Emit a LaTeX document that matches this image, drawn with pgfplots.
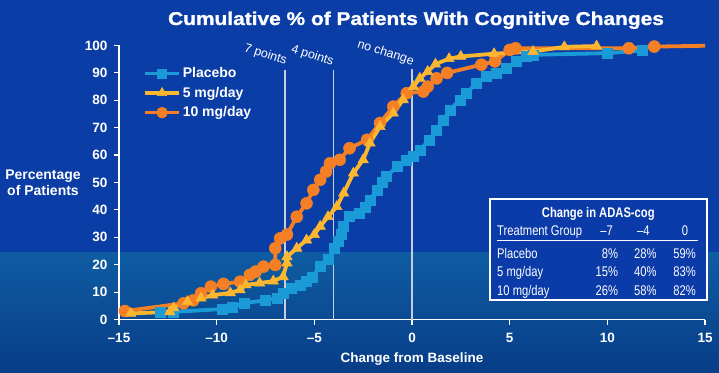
\documentclass[border=0pt]{standalone}
\usepackage{fontspec}
\setmainfont{Liberation Sans}
\newfontfamily\narrowfont[FakeStretch=0.8]{Liberation Sans}
\newfontfamily\titlefont[FakeStretch=1.13,FakeBold=1.2]{Liberation Sans Bold}
\usepackage{pgfplots}
\pgfplotsset{compat=1.18}
\definecolor{bgtop}{HTML}{0B3DA6}
\definecolor{bandtop}{HTML}{0E5CA2}
\definecolor{bandbot}{HTML}{083D88}
\definecolor{tablebg}{HTML}{0A3BA9}
\definecolor{placebo}{HTML}{1A9BD7}
\definecolor{five}{HTML}{FDB62F}
\definecolor{ten}{HTML}{F47F24}
\definecolor{refline}{HTML}{C9CCDA}
\begin{document}
\begin{tikzpicture}[x=1pt,y=1pt]
\fill[bgtop] (0,0) rectangle (719,372);
\shade[top color=bandtop,bottom color=bandbot] (0,0) rectangle (719,119);
\useasboundingbox (0,0) rectangle (719,372);
\begin{axis}[
  at={(119pt,52.5pt)}, anchor=south west,
  scale only axis, width=586pt, height=274pt,
  xmin=-15, xmax=15, ymin=0, ymax=100,
  axis lines*=left,
  axis line style={-, white, line width=1.2pt},
  tick align=outside, major tick length=5pt,
  tick style={white, line width=1.2pt},
  xtick={-15,-10,-5,0,5,10,15}, xticklabels={–15,–10,–5,0,5,10,15},
  ytick={0,10,...,100}, yticklabels={0,10,20,30,40,50,60,70,80,90,100},
  ticklabel style={text=white, font=\bfseries\fontsize{13.5}{14}\selectfont},
  xticklabel style={yshift=-5pt},
  yticklabel style={xshift=-3pt},
  clip=false,
  legend cell align=left,
  legend style={at={(0.036,0.935)}, anchor=north west, draw=none, fill=none,
    text=white, font=\bfseries\fontsize{14}{16}\selectfont, row sep=4pt},
  legend image code/.code={\draw[mark repeat=2,mark phase=2,#1] plot coordinates {(0pt,0pt) (17pt,0pt) (34pt,0pt)};},
]
\addlegendimage{placebo, line width=3.5pt, mark=square*, mark size=4.5pt, mark options={line width=0.5pt}}
\addlegendentry{Placebo}
\addlegendimage{five, line width=3.5pt, mark=triangle*, mark size=5.5pt, mark options={line width=0.5pt}}
\addlegendentry{5 mg/day}
\addlegendimage{ten, line width=3.5pt, mark=*, mark size=5.5pt, mark options={line width=0.5pt}}
\addlegendentry{10 mg/day}
% reference lines
\addplot[refline, line width=1.1pt, forget plot] coordinates {(-6.5,0) (-6.5,91)};
\addplot[refline, line width=1.1pt, forget plot] coordinates {(-4,0) (-4,91)};
\addplot[refline, line width=1.1pt, forget plot] coordinates {(0,0) (0,91.5)};
% placebo
\addplot[placebo, line width=3.8pt, mark=square*, mark size=5pt, mark options={line width=0.5pt}, forget plot] coordinates {
(-12.9,2.6) (-12.2,2.8) (-9.7,3.8) (-9.2,4.5) (-8.6,6.0) (-7.5,7.0) (-6.9,7.9) (-6.6,9.7) (-6.2,11.5) (-5.7,12.6) (-5.4,14) (-5.1,15.6) (-4.7,19.3) (-4.3,22) (-4.0,26) (-3.8,28.5) (-3.6,31) (-3.5,34) (-3.2,37.5) (-2.7,38.9) (-2.4,41) (-2.15,43.6) (-1.8,47.3) (-1.5,50) (-1.3,52.2) (-0.78,55.8) (-0.27,58.3) (0.07,59.5) (0.4,61.9) (0.9,65.6) (1.26,69.2) (1.6,72.9) (1.94,76.5) (2.46,80.2) (2.8,82.6) (3.3,86.3) (3.8,88.7) (4.3,89.9) (4.8,91.7) (5.36,94.2) (5.87,96) (6.2,96.6) (10,97.2) (11.8,98.2)};
% 10 mg/day
\addplot[ten, line width=3.8pt, forget plot] coordinates {(12.4,99.6) (15,99.9)};
\addplot[ten, line width=3.8pt, mark=*, mark size=6pt, mark options={line width=0.5pt}, forget plot] coordinates {
(-14.7,3.1) (-11.7,5.9) (-11.2,7) (-10.8,9.6) (-10.3,12) (-9.65,13) (-8.8,13.8) (-8.3,16.3) (-8.0,17.5) (-7.6,19.3) (-7.0,19.9) (-7.0,26) (-6.75,29.6) (-6.4,31) (-5.9,37.5) (-5.4,42.4) (-5.05,47.3) (-4.7,51) (-4.4,54) (-4.2,57) (-3.7,58.3) (-3.2,62.5) (-2.3,65.6) (-1.64,71.7) (-0.96,77.7) (-0.27,82.6) (0.58,83.2) (0.8,85) (1.26,88) (1.8,90) (3.55,93) (4.25,94.2) (5.0,98.4) (5.3,99) (11.1,99) (12.4,99.6)};
% 5 mg/day
\addplot[five, line width=3.8pt, mark=triangle*, mark size=6pt, mark options={line width=0.5pt}, forget plot] coordinates {
(-14.4,2.2) (-12.4,2.8) (-12.2,4.2) (-11.5,6.5) (-10.8,7.8) (-10.2,8.9) (-9.3,9.7) (-8.8,10.8) (-8.5,12.6) (-7.8,13.3) (-7.1,14) (-6.6,15.6) (-6.4,20.6) (-6.4,22.9) (-5.9,26) (-5.4,29) (-5.0,31) (-4.7,34) (-4.3,37.5) (-3.85,41.2) (-3.5,46.1) (-3.0,53.4) (-2.5,58.3) (-2.15,64.4) (-1.64,70.4) (-0.96,75.3) (-0.45,80.2) (0.07,85) (0.4,88) (0.8,90.5) (1.2,93.2) (1.9,95.2) (2.5,96) (4.2,97) (6.2,97.8) (7.8,99.5) (9.45,99.8)};
% reference line labels
\node[rotate=-18, text=white, font=\fontsize{12.5}{14}\selectfont, inner sep=0pt] at (axis cs:-7.5,96.6) {7 points};
\node[rotate=-18, text=white, font=\fontsize{12.5}{14}\selectfont, inner sep=0pt] at (axis cs:-5.1,96.2) {4 points};
\node[rotate=-18, text=white, font=\fontsize{12.5}{14}\selectfont, inner sep=0pt] at (axis cs:-1.35,97.2) {no change};
\end{axis}
% title and axis labels
\node[anchor=base, text=white, font=\titlefont\fontsize{18.5}{20}\selectfont] at (416,347) {Cumulative \% of Patients With Cognitive Changes};
\node[anchor=base, text=white, font=\bfseries\fontsize{14}{16}\selectfont] at (43,192) {Percentage};
\node[anchor=base, text=white, font=\bfseries\fontsize{14}{16}\selectfont] at (43,176.3) {of Patients};
\node[anchor=base, text=white, font=\bfseries\fontsize{13.5}{15}\selectfont] at (412,10) {Change from Baseline};
% table
\draw[white, line width=1.2pt, fill=tablebg] (490,173) rectangle (707,72);
\begin{scope}[every node/.style={text=white, font=\narrowfont\fontsize{14}{16}\selectfont, inner sep=0pt}]
\node[anchor=base, font=\narrowfont\bfseries\fontsize{14}{16}\selectfont] at (598.3,154.7) {Change in ADAS-cog};
\node[anchor=base west] at (497,136.3) {Treatment Group};
\node[anchor=base] at (606.7,136.3) {–7};
\node[anchor=base] at (643.3,136.3) {–4};
\node[anchor=base] at (685,136.3) {0};
\draw[white, line width=0.8pt] (497,131.3) -- (698,131.3);
\node[anchor=base west] at (497,113.7) {Placebo};
\node[anchor=base east] at (618.3,113.7) {8\%};
\node[anchor=base east] at (656.7,113.7) {28\%};
\node[anchor=base east] at (696,113.7) {59\%};
\node[anchor=base west] at (497,95.3) {5 mg/day};
\node[anchor=base east] at (618.3,95.3) {15\%};
\node[anchor=base east] at (656.7,95.3) {40\%};
\node[anchor=base east] at (696,95.3) {83\%};
\node[anchor=base west] at (497,77) {10 mg/day};
\node[anchor=base east] at (618.3,77) {26\%};
\node[anchor=base east] at (656.7,77) {58\%};
\node[anchor=base east] at (696,77) {82\%};
\end{scope}
\end{tikzpicture}
\end{document}
